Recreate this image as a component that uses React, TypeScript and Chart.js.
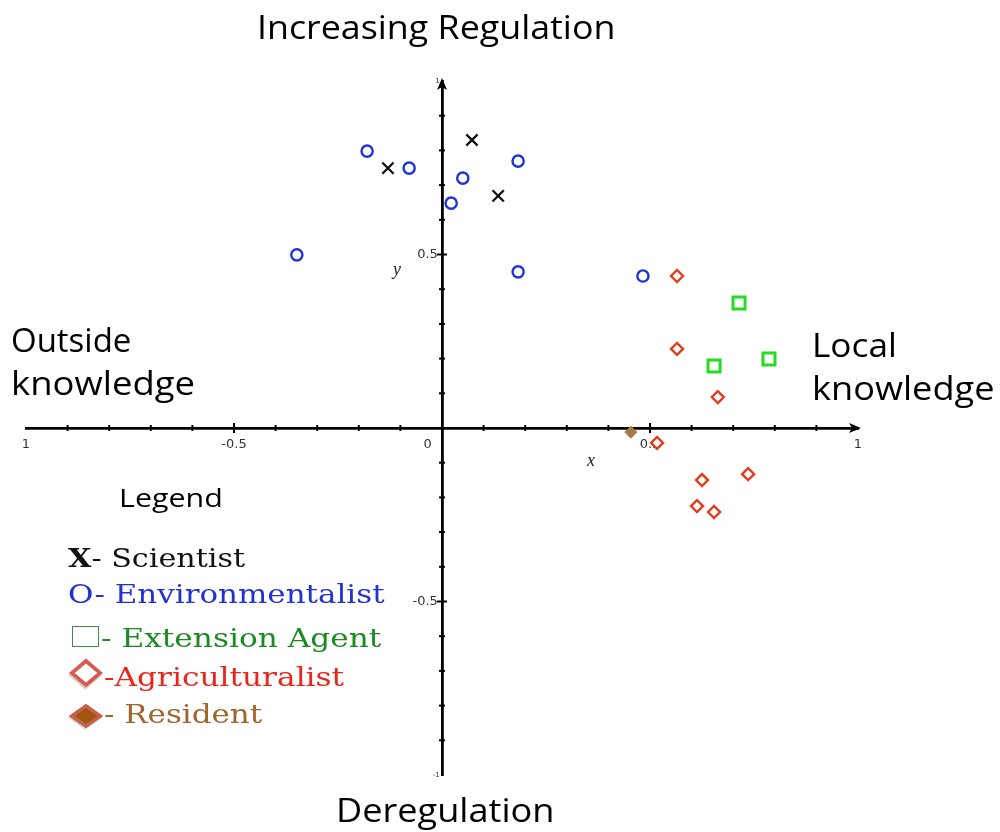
import React, { useEffect, useRef } from 'react';
import { Chart, registerables } from 'chart.js';

Chart.register(...registerables);

// ---- data ----
const scientistX = [-0.13, 0.072, 0.135];
const scientistY = [0.749, 0.83, 0.669];
const environmentalistX = [-0.18, -0.079, 0.05, 0.022, 0.183, -0.349, 0.183, 0.483];
const environmentalistY = [0.798, 0.749, 0.72, 0.648, 0.769, 0.499, 0.45, 0.438];
const extensionX = [0.714, 0.654, 0.786];
const extensionY = [0.36, 0.179, 0.199];
const agriculturalistX = [0.565, 0.565, 0.663, 0.517, 0.625, 0.736, 0.613, 0.654];
const agriculturalistY = [0.438, 0.228, 0.089, -0.043, -0.15, -0.133, -0.225, -0.242];
const residentX = [0.454];
const residentY = [-0.012];

const axisMin = -1;
const axisMax = 1;
const tickStep = 0.1;
const xTickValues = [-1, -0.5, 0, 0.5, 1];
const xTickLabels = ['1', '-0.5', '0       ', '0.5', '1'];
const yTickValues = [1, 0.5, -0.5, -1];
const yTickLabels = ['1 ', '0.5 ', '-0.5 ', '-1 '];

const zip = (xs: number[], ys: number[]) => xs.map((x, i) => ({ x, y: ys[i] }));
const near = (a: number, b: number) => Math.abs(a - b) < 1e-6;

const axisDecor = {
  id: 'axisDecor',
  beforeDatasetsDraw(chart: any) {
    const { ctx } = chart;
    const xs = chart.scales.x;
    const ys = chart.scales.y;
    const x0 = xs.getPixelForValue(0);
    const y0 = ys.getPixelForValue(0);
    ctx.save();
    ctx.strokeStyle = '#000';
    ctx.fillStyle = '#000';
    ctx.lineWidth = 2;
    xs.ticks.forEach((t: any) => {
      const v = t.value;
      if (near(v, 0) || near(Math.abs(v), 1)) return;
      const px = xs.getPixelForValue(v);
      const half = near(Math.abs(v), 0.5) ? 5 : 3;
      ctx.beginPath();
      ctx.moveTo(px, y0 - half);
      ctx.lineTo(px, y0 + half);
      ctx.stroke();
    });
    ys.ticks.forEach((t: any) => {
      const v = t.value;
      if (near(v, 0) || near(Math.abs(v), 1)) return;
      const py = ys.getPixelForValue(v);
      const half = near(Math.abs(v), 0.5) ? 5 : 3;
      ctx.beginPath();
      ctx.moveTo(x0 - half, py);
      ctx.lineTo(x0 + half, py);
      ctx.stroke();
    });
    const xEnd = xs.getPixelForValue(axisMax);
    ctx.beginPath();
    ctx.moveTo(xEnd + 3, y0);
    ctx.lineTo(xEnd - 9, y0 - 5);
    ctx.lineTo(xEnd - 6, y0);
    ctx.lineTo(xEnd - 9, y0 + 5);
    ctx.closePath();
    ctx.fill();
    const yEnd = ys.getPixelForValue(axisMax);
    ctx.beginPath();
    ctx.moveTo(x0, yEnd - 3);
    ctx.lineTo(x0 - 5, yEnd + 9);
    ctx.lineTo(x0, yEnd + 6);
    ctx.lineTo(x0 + 5, yEnd + 9);
    ctx.closePath();
    ctx.fill();
    ctx.restore();
  },
};

function Label(props: { left: number; top: number; size: number; family: string; color?: string; italic?: boolean; sx?: number; children: any }) {
  return (
    <div
      style={{
        position: 'absolute',
        left: props.left,
        top: props.top,
        fontSize: props.size,
        lineHeight: `${props.size}px`,
        fontFamily: props.family,
        color: props.color || '#000',
        fontStyle: props.italic ? 'italic' : 'normal',
        whiteSpace: 'nowrap',
        transform: props.sx ? `scaleX(${props.sx})` : undefined,
        transformOrigin: 'left center',
      }}
    >
      {props.children}
    </div>
  );
}

function Diamond(props: { cx: number; cy: number; sy: number; fill: string; stroke: string }) {
  const s = 24;
  return (
    <div
      style={{
        position: 'absolute',
        left: props.cx - s / 2,
        top: props.cy - s / 2,
        width: s,
        height: s,
        boxSizing: 'border-box',
        border: `4px solid ${props.stroke}`,
        background: props.fill,
        transform: `scaleY(${props.sy}) rotate(45deg)`,
        boxShadow: '1px 2px 2px rgba(0,0,0,0.25)',
      }}
    />
  );
}

export default function App() {
  const canvasRef = useRef<HTMLCanvasElement | null>(null);

  useEffect(() => {
    const canvas = canvasRef.current;
    if (!canvas) return;
    const tickFont = { family: 'DejaVu Sans', size: 13 };
    const chart = new Chart(canvas, {
      type: 'scatter',
      data: {
        datasets: [
          {
            label: 'Scientist',
            data: zip(scientistX, scientistY),
            pointStyle: 'crossRot',
            radius: 8,
            borderWidth: 2.3,
            borderColor: '#111111',
            backgroundColor: '#111111',
          },
          {
            label: 'Environmentalist',
            data: zip(environmentalistX, environmentalistY),
            pointStyle: 'circle',
            radius: 5.6,
            borderWidth: 2.4,
            borderColor: '#1f34d4',
            backgroundColor: 'rgba(255,255,255,0)',
          },
          {
            label: 'Extension Agent',
            data: zip(extensionX, extensionY),
            pointStyle: 'rect',
            radius: 8.5,
            borderWidth: 3,
            borderColor: '#22dd22',
            backgroundColor: 'rgba(255,255,255,0)',
          },
          {
            label: 'Agriculturalist',
            data: zip(agriculturalistX, agriculturalistY),
            pointStyle: 'rectRot',
            radius: 6,
            borderWidth: 2.4,
            borderColor: '#e23d1c',
            backgroundColor: '#ffffff',
          },
          {
            label: 'Resident',
            data: zip(residentX, residentY),
            pointStyle: 'rectRot',
            radius: 6,
            borderWidth: 1,
            borderColor: '#a47a45',
            backgroundColor: '#a47a45',
          },
        ],
      },
      options: {
        animation: false,
        responsive: false,
        maintainAspectRatio: false,
        devicePixelRatio: 1,
        layout: { padding: { left: 26, right: 142, top: 81, bottom: 57 } },
        plugins: { legend: { display: false }, tooltip: { enabled: false } },
        scales: {
          x: {
            type: 'linear',
            min: axisMin,
            max: axisMax,
            position: { y: 0 },
            afterFit: (s: any) => {
              s.height = 0;
            },
            grid: { display: false, drawOnChartArea: false, drawTicks: false },
            border: { display: true, color: '#000', width: 2.8 },
            ticks: {
              stepSize: tickStep,
              autoSkip: false,
              maxRotation: 0,
              padding: 9,
              color: '#333',
              font: tickFont,
              callback: (value: any) => {
                const i = xTickValues.findIndex((t) => near(t, Number(value)));
                return i >= 0 ? xTickLabels[i] : '';
              },
            },
          },
          y: {
            type: 'linear',
            min: axisMin,
            max: axisMax,
            position: { x: 0 },
            afterFit: (s: any) => {
              s.width = 0;
            },
            grid: { display: false, drawOnChartArea: false, drawTicks: false },
            border: { display: true, color: '#000', width: 2.8 },
            ticks: {
              stepSize: tickStep,
              autoSkip: false,
              padding: 0,
              color: '#333',
              font: (c: any) => ({
                family: 'DejaVu Sans',
                size: c.tick && near(Math.abs(c.tick.value), 1) ? 7 : 13,
              }),
              callback: (value: any) => {
                const i = yTickValues.findIndex((t) => near(t, Number(value)));
                return i >= 0 ? yTickLabels[i] : '';
              },
            },
          },
        },
      },
      plugins: [axisDecor],
    } as any);
    return () => chart.destroy();
  }, []);

  const big = '"Open Sans", Lato, sans-serif';
  const serif = '"DejaVu Serif", serif';

  return (
    <div style={{ position: 'absolute', left: 0, top: 0, width: 1000, height: 832, overflow: 'hidden', background: '#fff' }}>
      <canvas ref={canvasRef} width={1000} height={832} style={{ display: 'block', position: 'absolute', left: 0, top: 0 }} />
      <Label left={257} top={10} size={33} family={big} sx={1.085}>Increasing Regulation</Label>
      <Label left={336} top={793} size={33} family={big} sx={1.095}>Deregulation</Label>
      <Label left={11} top={324} size={32} family={big} sx={1.03}>Outside</Label>
      <Label left={11} top={367} size={32} family={big} sx={1.14}>knowledge</Label>
      <Label left={812} top={329} size={32} family={big} sx={1.1}>Local</Label>
      <Label left={812} top={372} size={32} family={big} sx={1.13}>knowledge</Label>
      <Label left={119} top={484} size={26} family={big} sx={1.17}>Legend</Label>
      <Label left={393} top={260} size={18} family={'"Liberation Serif", serif'} italic color="#222">y</Label>
      <Label left={587} top={451} size={18} family={'"Liberation Serif", serif'} italic color="#222">x</Label>

      <Label left={68} top={545} size={26} family={serif} color="#111" sx={1.16}>
        <span style={{ fontWeight: 'bold' }}>X</span>- Scientist
      </Label>
      <Label left={68} top={581} size={26} family={serif} color="#2232d0" sx={1.19}>
        O- Environmentalist
      </Label>
      <div
        style={{
          position: 'absolute',
          left: 72,
          top: 626,
          width: 27,
          height: 21,
          boxSizing: 'border-box',
          border: '1.5px solid #3d8c45',
        }}
      />
      <Label left={101} top={625} size={26} family={serif} color="#1b8a22" sx={1.2}>
        - Extension Agent
      </Label>
      <Diamond cx={86} cy={673} sy={0.85} fill="#ffffff" stroke="#d65a4e" />
      <Label left={104} top={664} size={26} family={serif} color="#e8261c" sx={1.2}>
        -Agriculturalist
      </Label>
      <Diamond cx={86} cy={716} sy={0.7} fill="#a0560f" stroke="#c9604f" />
      <Label left={104} top={701} size={26} family={serif} color="#a0652c" sx={1.19}>
        - Resident
      </Label>
    </div>
  );
}
